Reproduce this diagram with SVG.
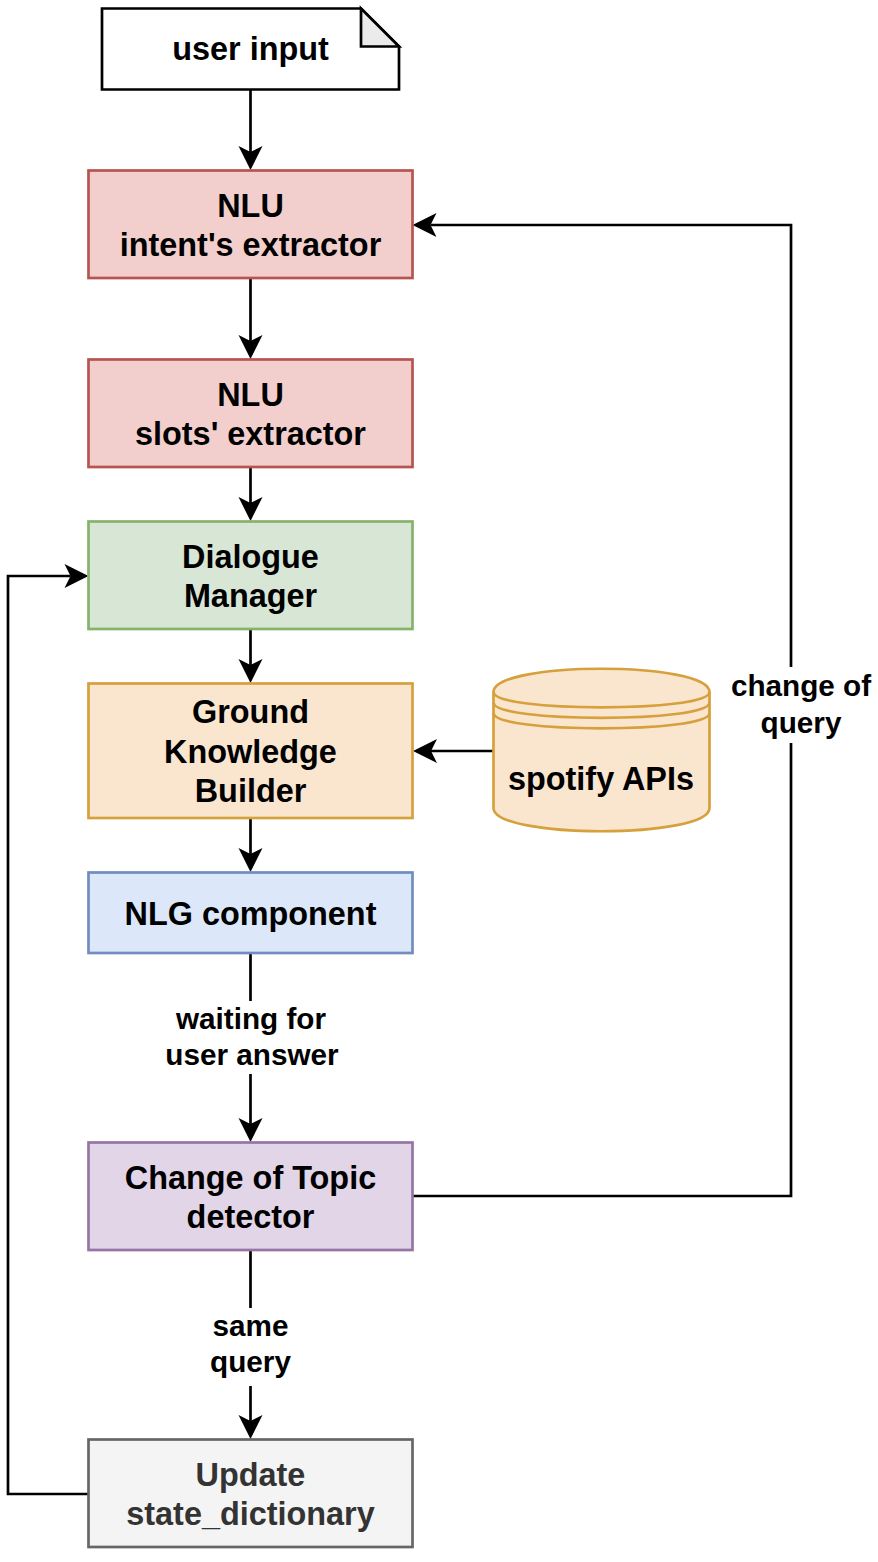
<svg xmlns="http://www.w3.org/2000/svg" width="878" height="1562" viewBox="0 0 878 1562">
<style>
.node { stroke-width: 2.7; }
.t { font-family: "Liberation Sans", Arial, Helvetica, sans-serif; font-weight: bold; font-size: 32.4px; text-anchor: middle; fill: #000000; }
.el { font-family: "Liberation Sans", Arial, Helvetica, sans-serif; font-weight: bold; font-size: 29.7px; text-anchor: middle; fill: #000000; }
.conn { fill: none; stroke: #000000; stroke-width: 2.7; marker-end: url(#arrow); }
.red { fill: #f2cfcc; stroke: #b85450; }
.green { fill: #d8e7d5; stroke: #86b36a; }
.orange { fill: #fae6cf; stroke: #d6a03c; }
.blue { fill: #dce8fa; stroke: #718dbf; }
.purple { fill: #e1d5e7; stroke: #9675a5; }
.gray { fill: #f4f4f4; stroke: #666666; }
</style>
<defs>
<marker id="arrow" viewBox="-8 -14 28 28" refX="0" refY="0" markerWidth="28" markerHeight="28" markerUnits="userSpaceOnUse" orient="auto">
<path d="M18,0 L-6,-12 L0,0 L-6,12 Z" fill="#000000" stroke="none"/>
</marker>
</defs>

<g id="connectors">
<path class="conn" d="M250.5,89.5 L250.5,152"/>
<path class="conn" d="M250.5,278 L250.5,341"/>
<path class="conn" d="M250.5,467 L250.5,503"/>
<path class="conn" d="M250.5,629 L250.5,665"/>
<path class="conn" d="M250.5,818 L250.5,854"/>
<path class="conn" d="M493.5,751 L431,751"/>
<path class="conn" d="M250.5,953 L250.5,1124"/>
<rect x="164" y="1001" width="176" height="73" fill="#ffffff"/>
<text class="el" x="251" y="1029">waiting for</text>
<text class="el" x="252" y="1065">user answer</text>
<path class="conn" d="M250.5,1250 L250.5,1421"/>
<rect x="207" y="1308" width="88" height="78" fill="#ffffff"/>
<text class="el" x="250.5" y="1336">same</text>
<text class="el" x="250.5" y="1372">query</text>
<path class="conn" d="M412.5,1196 L791,1196 L791,225 L430.5,225"/>
<rect x="728" y="667" width="146" height="76" fill="#ffffff"/>
<text class="el" x="801" y="696">change of</text>
<text class="el" x="801" y="733">query</text>
<path class="conn" d="M88.5,1494 L8,1494 L8,576 L70.5,576"/>
</g>

<g id="user-input">
<path d="M102,8.5 L361,8.5 L399,46.5 L399,89.5 L102,89.5 Z" fill="#ffffff" stroke="#000000" stroke-width="2.7"/>
<path d="M361,8.5 L361,46.5 L399,46.5 Z" fill="#ebebeb" stroke="#000000" stroke-width="2.7"/>
<text class="t" x="250.5" y="60">user input</text>
</g>

<g id="nlu-intent">
<rect class="node red" x="88.5" y="170.5" width="324" height="107.5"/>
<text class="t" x="250.5" y="216.5">NLU</text>
<text class="t" x="250.5" y="256">intent's extractor</text>
</g>

<g id="nlu-slots">
<rect class="node red" x="88.5" y="359.5" width="324" height="107.5"/>
<text class="t" x="250.5" y="405.5">NLU</text>
<text class="t" x="250.5" y="445">slots' extractor</text>
</g>

<g id="dialogue-manager">
<rect class="node green" x="88.5" y="521.5" width="324" height="107.5"/>
<text class="t" x="250.5" y="567.5">Dialogue</text>
<text class="t" x="250.5" y="607">Manager</text>
</g>

<g id="ground-knowledge-builder">
<rect class="node orange" x="88.5" y="683.5" width="324" height="134.5"/>
<text class="t" x="250.5" y="723">Ground</text>
<text class="t" x="250.5" y="762.5">Knowledge</text>
<text class="t" x="250.5" y="802">Builder</text>
</g>

<g id="spotify-apis">
<path class="node orange" d="M493.5,692 C493.5,661 709.5,661 709.5,692 L709.5,808 C709.5,839 493.5,839 493.5,808 Z"/>
<path class="node" fill="none" stroke="#d6a03c" d="M493.5,692 C493.5,712.5 709.5,712.5 709.5,692 M493.5,702.5 C493.5,723 709.5,723 709.5,702.5 M493.5,713 C493.5,733.5 709.5,733.5 709.5,713"/>
<text class="t" x="601" y="789.5">spotify APIs</text>
</g>

<g id="nlg-component">
<rect class="node blue" x="88.5" y="872.5" width="324" height="80.5"/>
<text class="t" x="250.5" y="924.5">NLG component</text>
</g>

<g id="change-of-topic">
<rect class="node purple" x="88.5" y="1142.5" width="324" height="107.5"/>
<text class="t" x="250.5" y="1188.5">Change of Topic</text>
<text class="t" x="250.5" y="1228">detector</text>
</g>

<g id="update-state">
<rect class="node gray" x="88.5" y="1439.5" width="324" height="107.5"/>
<text class="t" x="250.5" y="1485.5" style="fill:#333333">Update</text>
<text class="t" x="250.5" y="1525" style="fill:#333333">state_dictionary</text>
</g>
</svg>
